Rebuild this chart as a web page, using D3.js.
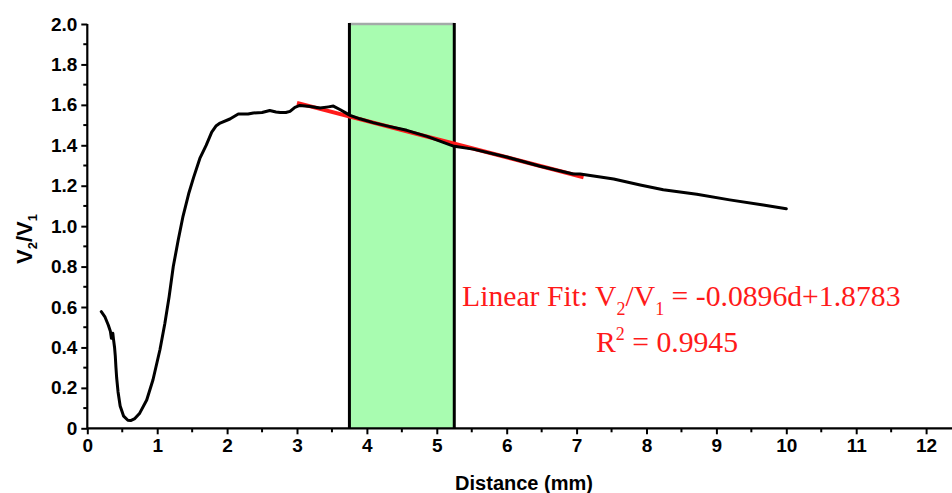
<!DOCTYPE html>
<html>
<head>
<meta charset="utf-8">
<script src="https://cdn.jsdelivr.net/npm/d3@7"></script>
<style>
  html, body { margin: 0; padding: 0; background: #fff; }
  svg { display: block; }
</style>
</head>
<body>
<svg id="chart" width="952" height="493"></svg>
<script>
// ---- data ----
const distanceMm = [0.20, 0.25, 0.30, 0.33, 0.345, 0.365, 0.375, 0.39, 0.40, 0.41, 0.42, 0.44, 0.47, 0.52, 0.58, 0.62, 0.68, 0.75, 0.85, 0.94, 1.04, 1.11, 1.17, 1.23, 1.30, 1.37, 1.45, 1.52, 1.61, 1.70, 1.78, 1.84, 1.90, 2.04, 2.16, 2.30, 2.375, 2.50, 2.61, 2.70, 2.76, 2.84, 2.90, 2.97, 3.04, 3.19, 3.33, 3.45, 3.52, 3.62, 3.71, 3.76, 3.90, 4.09, 4.30, 4.57, 4.86, 5.19, 5.25, 5.52, 6.00, 6.48, 6.95, 7.05, 7.34, 7.53, 7.91, 8.24, 8.72, 9.19, 9.67, 10.0];
const ratio = [0.577, 0.553, 0.511, 0.48, 0.445, 0.47, 0.44, 0.40, 0.36, 0.30, 0.25, 0.18, 0.11, 0.06, 0.04, 0.038, 0.048, 0.075, 0.14, 0.24, 0.39, 0.52, 0.65, 0.80, 0.93, 1.05, 1.16, 1.24, 1.335, 1.40, 1.465, 1.495, 1.51, 1.53, 1.555, 1.555, 1.56, 1.562, 1.572, 1.565, 1.562, 1.562, 1.568, 1.588, 1.597, 1.592, 1.584, 1.59, 1.594, 1.576, 1.558, 1.548, 1.531, 1.512, 1.495, 1.474, 1.444, 1.402, 1.395, 1.381, 1.342, 1.296, 1.258, 1.258, 1.243, 1.233, 1.204, 1.18, 1.158, 1.13, 1.105, 1.086];
const fitX = [3.0, 7.1];
const fitY = [1.61, 1.242];
const bandX = [3.75, 5.25];
const xTicks = [0, 1, 2, 3, 4, 5, 6, 7, 8, 9, 10, 11, 12];
const yTicks = [0, 0.2, 0.4, 0.6, 0.8, 1.0, 1.2, 1.4, 1.6, 1.8, 2.0];
const yTickLabels = ["0", "0.2", "0.4", "0.6", "0.8", "1.0", "1.2", "1.4", "1.6", "1.8", "2.0"];

// ---- layout ----
const svg = d3.select("#chart");
const padL = 87.3, padT = 24, baseY = 428.3;
const x = d3.scaleLinear().domain([0, 12.4]).range([padL, padL + 12.4 * 69.9]);
const y = d3.scaleLinear().domain([0, 2]).range([baseY, padT]);

// green band
svg.append("rect")
  .attr("x", x(bandX[0])).attr("y", y(2))
  .attr("width", x(bandX[1]) - x(bandX[0]))
  .attr("height", y(0) - y(2))
  .attr("fill", "#a8fcb0");
svg.append("line")
  .attr("x1", x(bandX[0])).attr("x2", x(bandX[1]))
  .attr("y1", y(2)).attr("y2", y(2))
  .attr("stroke", "#a3aaa8").attr("stroke-width", 2.5);
bandX.forEach(v => {
  svg.append("line")
    .attr("x1", x(v)).attr("x2", x(v))
    .attr("y1", y(2) - 1).attr("y2", y(0))
    .attr("stroke", "#000").attr("stroke-width", 3);
});

// fit line
svg.append("line")
  .attr("x1", x(fitX[0])).attr("y1", y(fitY[0]))
  .attr("x2", x(fitX[1])).attr("y2", y(fitY[1]))
  .attr("stroke", "#ff1a1a").attr("stroke-width", 4);

// data curve
const pts = distanceMm.map((d, i) => [d, ratio[i]]);
svg.append("path")
  .datum(pts)
  .attr("fill", "none")
  .attr("stroke", "#000")
  .attr("stroke-width", 3)
  .attr("stroke-linejoin", "round")
  .attr("stroke-linecap", "round")
  .attr("d", d3.line().x(d => x(d[0])).y(d => y(d[1])));

// axes
const fontAx = "'Liberation Sans', Arial, sans-serif";
const xAxis = d3.axisBottom(x).tickValues(xTicks).tickFormat(d3.format("d")).tickSize(6).tickPadding(4);
const gx = svg.append("g").attr("transform", `translate(0,${baseY})`).call(xAxis);
gx.append("g").selectAll("line")
  .data(d3.range(0.5, 12.4, 1)).join("line")
  .attr("x1", d => x(d)).attr("x2", d => x(d))
  .attr("y1", 0).attr("y2", 4).attr("stroke", "#000").attr("stroke-width", 2);

const yAxis = d3.axisLeft(y).tickValues(yTicks).tickFormat((d, i) => yTickLabels[i]).tickSize(6).tickPadding(4);
const gy = svg.append("g").attr("transform", `translate(${padL},0)`).call(yAxis);
gy.append("g").selectAll("line")
  .data(d3.range(0.1, 2.0, 0.2)).join("line")
  .attr("x1", 0).attr("x2", -4)
  .attr("y1", d => y(d)).attr("y2", d => y(d)).attr("stroke", "#000").attr("stroke-width", 2);

[gx, gy].forEach(g => {
  g.select(".domain").attr("stroke", "#000").attr("stroke-width", 2.2);
  g.selectAll(".tick line").attr("stroke", "#000").attr("stroke-width", 2);
  g.selectAll(".tick text").attr("font-family", fontAx).attr("font-weight", "bold")
    .attr("font-size", 19).attr("fill", "#000");
});
gx.select(".domain").attr("d", `M${padL},0H952`);
gy.select(".domain").attr("d", `M0,${baseY}V${padT}`);

// axis titles
svg.append("text")
  .attr("x", 524).attr("y", 490)
  .attr("text-anchor", "middle")
  .attr("font-family", fontAx).attr("font-weight", "bold").attr("font-size", 20)
  .text("Distance (mm)");

const yt = svg.append("text")
  .attr("transform", "translate(32,239) rotate(-90)")
  .attr("text-anchor", "middle")
  .attr("font-family", fontAx).attr("font-weight", "bold").attr("font-size", 22);
yt.append("tspan").text("V");
yt.append("tspan").attr("font-size", 13).attr("dy", 5).text("2");
yt.append("tspan").attr("dy", -5).text("/V");
yt.append("tspan").attr("font-size", 13).attr("dy", 5).text("1");

// annotation
const fontAn = "'Liberation Serif', 'Times New Roman', serif";
const t1 = svg.append("text")
  .attr("x", 462).attr("y", 306)
  .attr("font-family", fontAn).attr("font-size", 29.7).attr("fill", "#ff1a1a");
t1.append("tspan").text("Linear Fit: V");
t1.append("tspan").attr("font-size", 18).attr("dy", 9).text("2");
t1.append("tspan").attr("dy", -9).text("/V");
t1.append("tspan").attr("font-size", 18).attr("dy", 9).text("1");
t1.append("tspan").attr("dy", -9).text(" = -0.0896d+1.8783");

const t2 = svg.append("text")
  .attr("x", 596).attr("y", 352)
  .attr("font-family", fontAn).attr("font-size", 29.7).attr("fill", "#ff1a1a");
t2.append("tspan").text("R");
t2.append("tspan").attr("font-size", 18).attr("dy", -12).text("2");
t2.append("tspan").attr("dy", 12).text(" = 0.9945");
</script>
</body>
</html>
